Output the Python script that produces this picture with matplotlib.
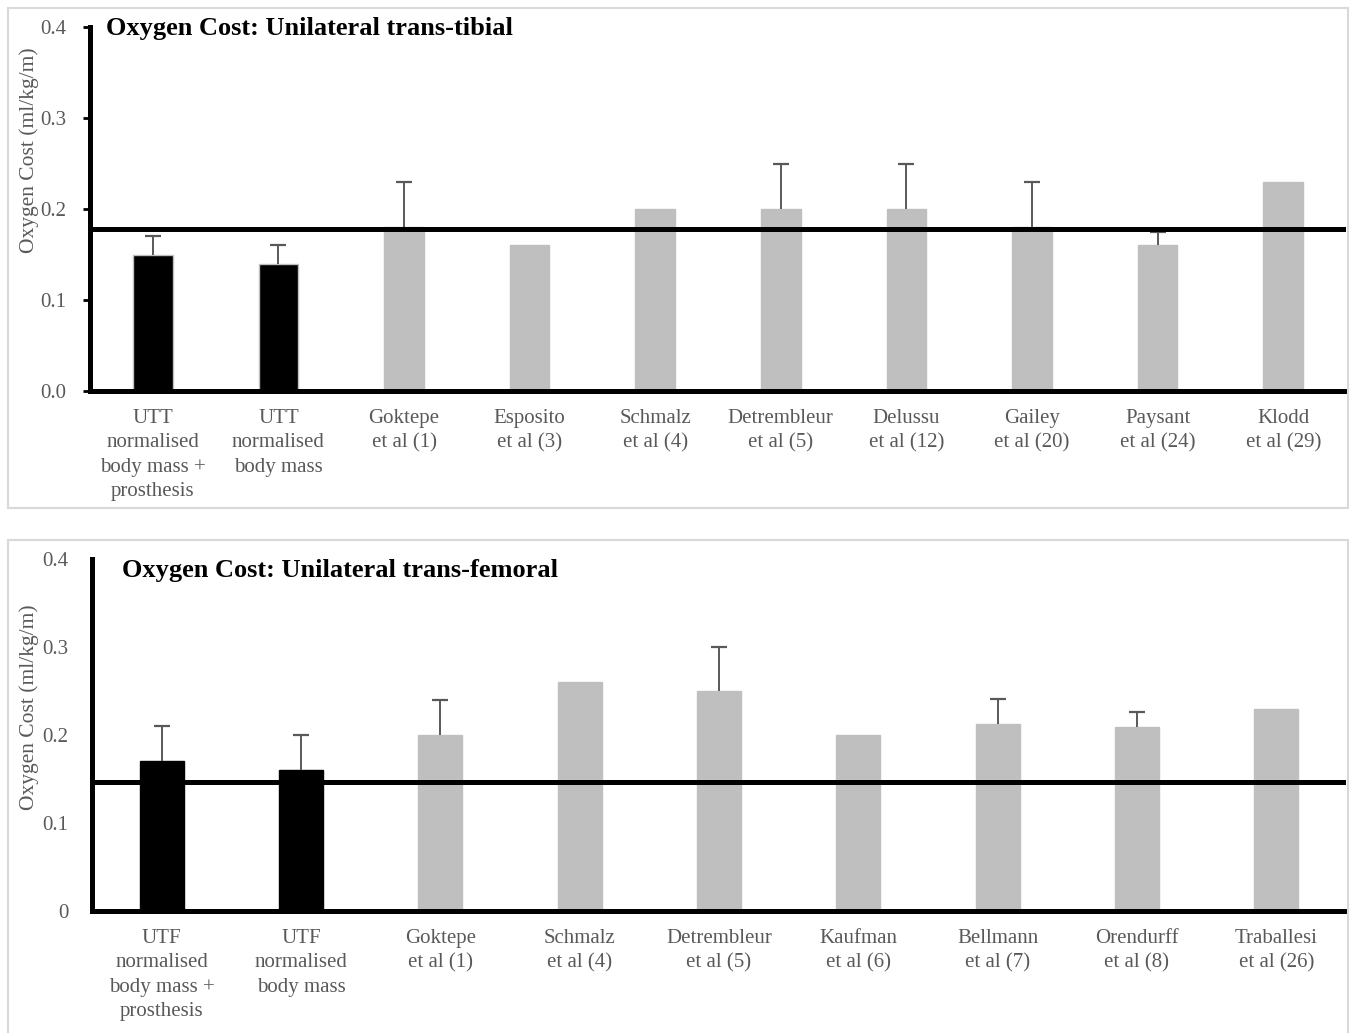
import matplotlib.pyplot as plt
from matplotlib.patches import Rectangle

plt.rcParams['font.family'] = ['Liberation Serif', 'DejaVu Serif']

# ── Data: unilateral trans-tibial ──
tt_labels = ["UTT\nnormalised\nbody mass +\nprosthesis", "UTT\nnormalised\nbody mass",
             "Goktepe\net al (1)", "Esposito\net al (3)", "Schmalz\net al (4)",
             "Detrembleur\net al (5)", "Delussu\net al (12)", "Gailey\net al (20)",
             "Paysant\net al (24)", "Klodd\net al (29)"]
tt_values = [0.15, 0.14, 0.18, 0.16, 0.20, 0.20, 0.20, 0.18, 0.16, 0.23]
tt_errors = [0.02, 0.02, 0.05, 0, 0, 0.05, 0.05, 0.05, 0.015, 0]
tt_reference = 0.178

# ── Data: unilateral trans-femoral ──
tf_labels = ["UTF\nnormalised\nbody mass +\nprosthesis", "UTF\nnormalised\nbody mass",
             "Goktepe\net al (1)", "Schmalz\net al (4)", "Detrembleur\net al (5)",
             "Kaufman\net al (6)", "Bellmann\net al (7)", "Orendurff\net al (8)",
             "Traballesi\net al (26)"]
tf_values = [0.17, 0.16, 0.20, 0.26, 0.25, 0.20, 0.213, 0.209, 0.23]
tf_errors = [0.04, 0.04, 0.04, 0, 0.05, 0, 0.028, 0.017, 0]
tf_reference = 0.147

GREY = "#bfbfbf"
TEXT = "#595959"

fig = plt.figure(figsize=(13.55, 10.33), dpi=100)

# panel frames
fig.patches.append(Rectangle((8 / 1355, 1 - 508 / 1033), 1340 / 1355, 500 / 1033,
                             transform=fig.transFigure, fill=False, ec="#d9d9d9", lw=1.5))
fig.patches.append(Rectangle((8 / 1355, -0.01), 1340 / 1355, 1 - 540 / 1033 + 0.01,
                             transform=fig.transFigure, fill=False, ec="#d9d9d9", lw=1.5))


def draw_panel(ax, labels, values, errors, reference, title, title_xy, ticklabels, ticklen, edge):
    n = len(values)
    x = list(range(n))
    colors = ["black", "black"] + [GREY] * (n - 2)
    edges = [edge, edge] + [GREY] * (n - 2)
    ax.bar(x, values, width=0.315, color=colors, edgecolor=edges, linewidth=1, zorder=2)
    # one-sided (upper) error bars
    ex = [i for i in x if errors[i] > 0]
    tops = [values[i] + errors[i] for i in ex]
    ax.vlines(ex, [values[i] for i in ex], tops, color=TEXT, lw=1.4, zorder=3)
    ax.plot(ex, tops, ls="none", marker="_", markersize=11, mew=1.6, color=TEXT, zorder=3)
    ax.axhline(reference, color="black", lw=3.6, zorder=4)
    ax.set_xlim(-0.5, n - 0.5)
    ax.set_ylim(0, 0.4)
    ax.set_yticks([0, 0.1, 0.2, 0.3, 0.4])
    ax.set_yticklabels(ticklabels, color=TEXT, fontsize=15)
    ax.set_xticks(x)
    ax.set_xticklabels(labels, color=TEXT, fontsize=15, linespacing=1.38)
    ax.tick_params(axis="x", length=0, pad=13)
    ax.tick_params(axis="y", length=ticklen, width=2, pad=12, color="black")
    for side in ["top", "right"]:
        ax.spines[side].set_visible(False)
    for side in ["left", "bottom"]:
        ax.spines[side].set_linewidth(3.6)
    ax.text(title_xy[0], title_xy[1], title, transform=ax.transAxes,
            fontsize=19, fontweight="bold", va="center", ha="left")


ax1 = fig.add_axes([90 / 1355, 1 - 391 / 1033, 1256 / 1355, 364 / 1033])
draw_panel(ax1, tt_labels, tt_values, tt_errors, tt_reference,
           "Oxygen Cost: Unilateral trans-tibial", (0.013, 0.997),
           ["0.0", "0.1", "0.2", "0.3", "0.4"], 5, GREY)
fig.text(29 / 1355, 1 - 150 / 1033, "Oxygen Cost (ml/kg/m)", rotation=90,
         ha="center", va="center", color=TEXT, fontsize=15.5)

ax2 = fig.add_axes([92 / 1355, 1 - 911 / 1033, 1254 / 1355, 352 / 1033])
draw_panel(ax2, tf_labels, tf_values, tf_errors, tf_reference,
           "Oxygen Cost: Unilateral trans-femoral", (0.024, 0.966),
           ["0", "0.1", "0.2", "0.3", "0.4"], 0, "black")
ax2.tick_params(axis="y", pad=17)
fig.text(29 / 1355, 1 - 707 / 1033, "Oxygen Cost (ml/kg/m)", rotation=90,
         ha="center", va="center", color=TEXT, fontsize=15.5)

plt.savefig("out.png", dpi=100)
